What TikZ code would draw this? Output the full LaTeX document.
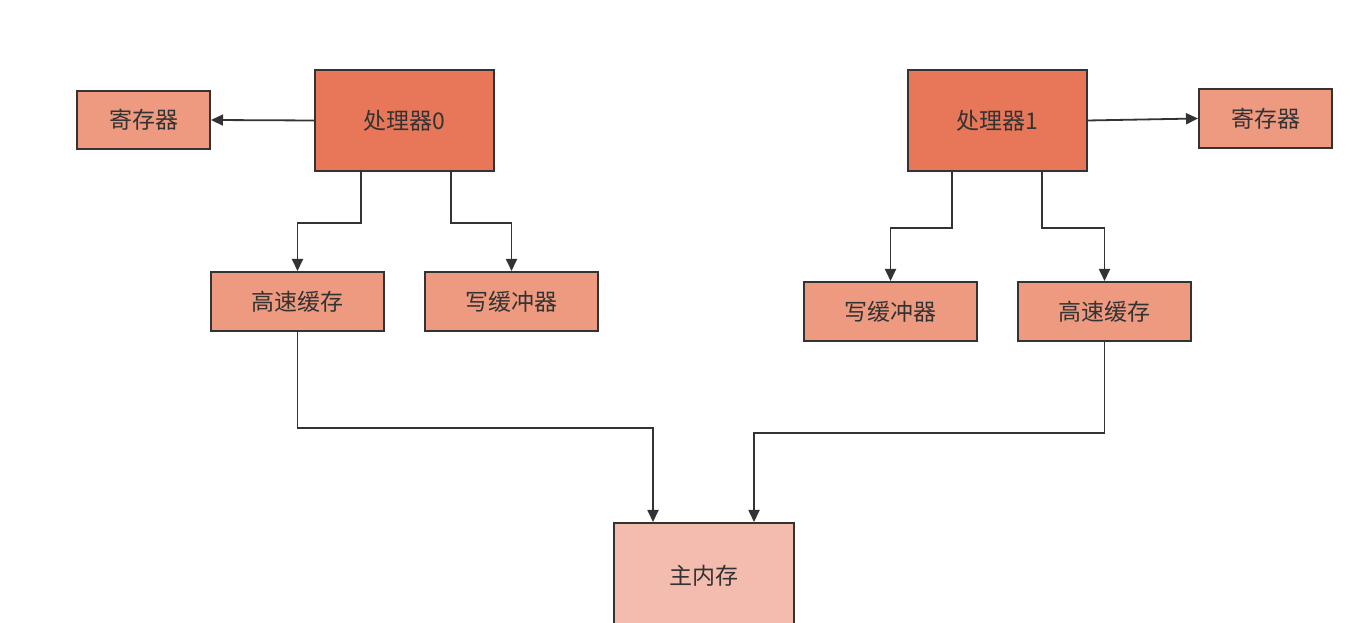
\documentclass[tikz,border=0pt]{standalone}
\usepackage{fontspec}
\setmainfont{Noto Sans CJK SC}
\usetikzlibrary{arrows.meta,positioning,calc}
\definecolor{cpu}{HTML}{E8775A}
\definecolor{unit}{HTML}{EE9A80}
\definecolor{mem}{HTML}{F4BCAE}
\definecolor{edge}{HTML}{333333}

\begin{document}
\begin{tikzpicture}[x=1pt,y=1pt,font=\fontsize{23}{27}\selectfont,text=edge,>={Triangle[length=12pt,width=11pt]},
  box/.style={draw=edge,line width=2pt,fill=unit,minimum width=173pt,minimum height=59pt,inner sep=0pt},
  cpubox/.style={box,fill=cpu,minimum width=179pt,minimum height=101pt},
  link/.style={draw=edge,line width=1.8pt,->}]
\useasboundingbox (0,0) rectangle (1356,623);
\node[box,minimum width=133pt,minimum height=58pt] (reg0) at (143.5,503) {寄存器};
\node[cpubox] (p0) at (404.5,502.5) {处理器0};
\node[box] (cache0) at (297.5,321.5) {高速缓存};
\node[box] (wbuf0) at (511.5,321.5) {写缓冲器};
\node[cpubox] (p1) at (997,502.5) {处理器1};
\node[box,minimum width=133pt,minimum height=59pt] (reg1) at (1265.5,504.5) {寄存器};
\node[box] (wbuf1) at (890.5,311.5) {写缓冲器};
\node[box] (cache1) at (1104.5,311.5) {高速缓存};
\node[box,fill=mem,minimum width=180pt,minimum height=105pt] (main) at (704,47.5) {主内存};
\draw[link] (p0.west)--(reg0.east);
\draw[link] (p1.east)--(reg1.west);
\draw[link] ([xshift=-43.5pt]p0.south)--++(0,-51)-|(cache0.north);
\draw[link] ([xshift=46.5pt]p0.south)--++(0,-51)-|(wbuf0.north);
\draw[link] ([xshift=-45pt]p1.south)--++(0,-56)-|(wbuf1.north);
\draw[link] ([xshift=45pt]p1.south)--++(0,-56)-|(cache1.north);
\draw[link] (cache0.south)--++(0,-96)-|([xshift=-51pt]main.north);
\draw[link] (cache1.south)--++(0,-91)-|([xshift=50pt]main.north);
\end{tikzpicture}
\end{document}
